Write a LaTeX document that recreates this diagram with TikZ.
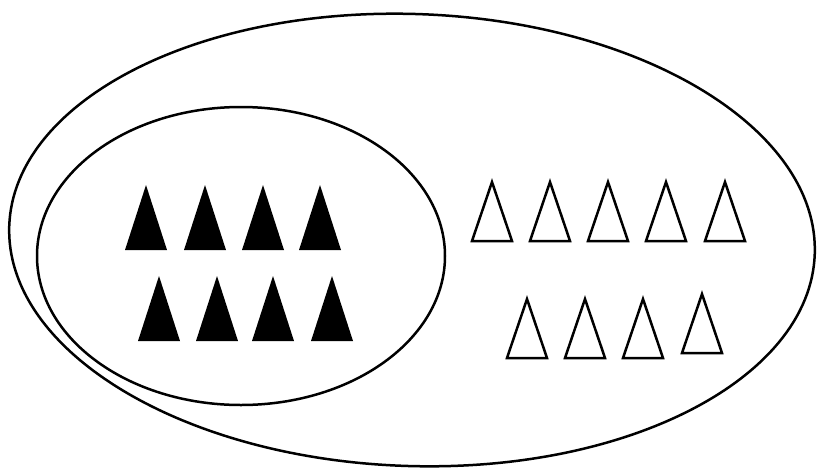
\documentclass[tikz,border=0pt]{standalone}
\usepackage{tikz}

\begin{document}
\begin{tikzpicture}[x=1pt,y=-1pt,line join=miter]
        \useasboundingbox (0,0) rectangle (820,467);
        % outer set
        \draw[line width=2.5pt,rotate around={-2:(412,240)}] (412,240) ellipse (403 and 226);
        % inner set
        \draw[line width=2.5pt] (241,256) ellipse (204 and 149);

        % filled triangles inside the inner set
        \foreach \x in {146,205,263,320} {
          \fill (\x,185) -- (\x-21,250) -- (\x+21,250) -- cycle;
        }
        \foreach \x in {159,217,273,332} {
          \fill (\x,276) -- (\x-21,341) -- (\x+21,341) -- cycle;
        }

        % open triangles outside the inner set
        \foreach \x in {492,550,608,666,725} {
          \draw[line width=2.5pt] (\x,182) -- (\x-20,241) -- (\x+20,241) -- cycle;
        }
        \foreach \x/\d in {527/0,585/0,643/0,702/-5} {
          \draw[line width=2.5pt] (\x,299+\d) -- (\x-20,358+\d) -- (\x+20,358+\d) -- cycle;
        }
      \end{tikzpicture}
\end{document}
